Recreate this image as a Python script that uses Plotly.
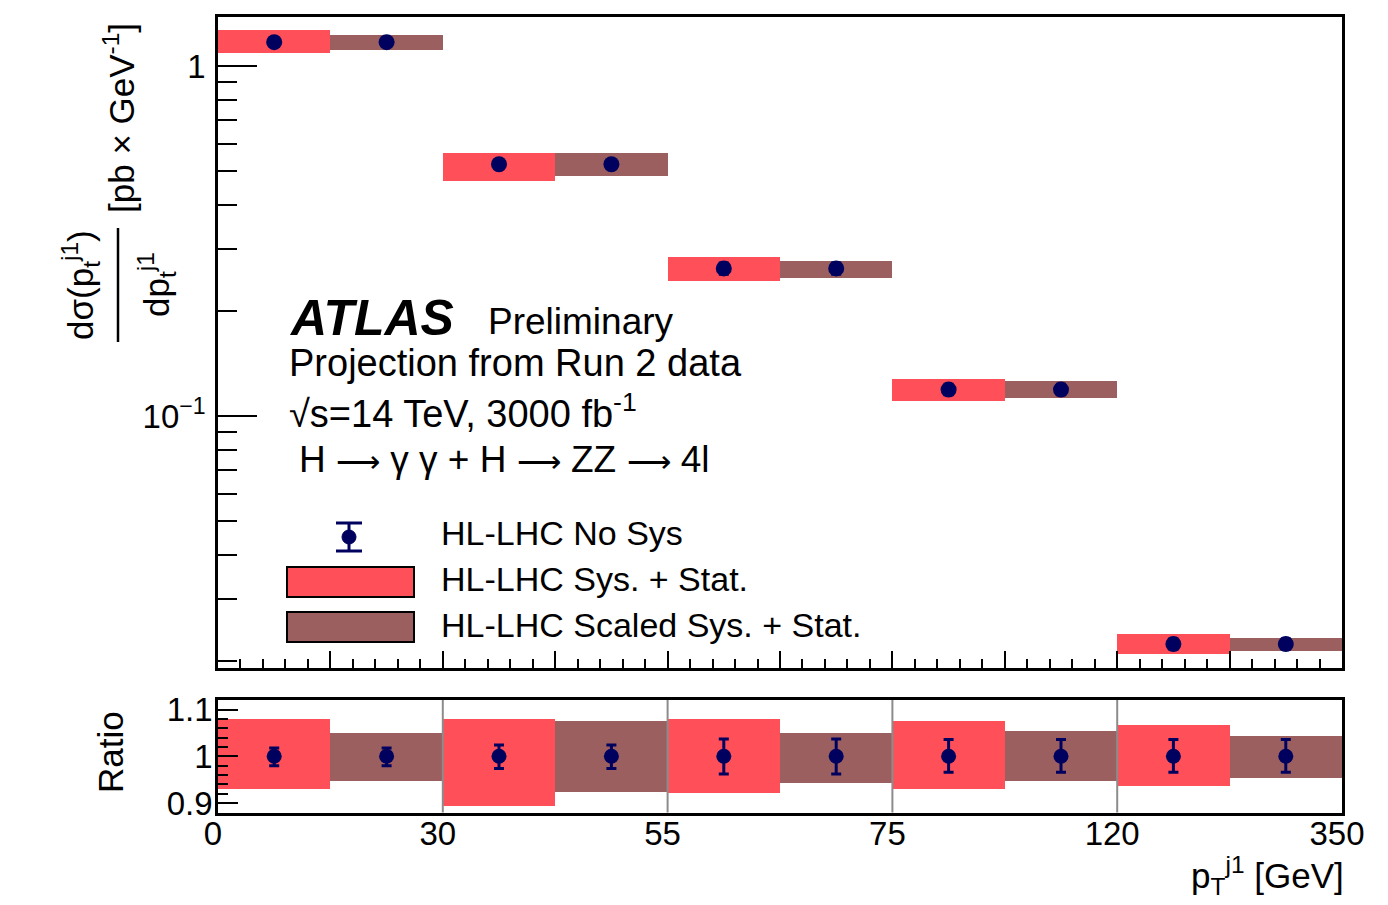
import plotly.graph_objects as go

# Leading-jet pT bins (GeV) and their edge labels
bin_edges = ["0", "30", "55", "75", "120", "350"]

# Differential cross section per bin [pb/GeV]
xsec = [1.17, 0.524, 0.264, 0.119, 0.0223]

# Relative uncertainty bands (upper / lower edge of the ratio)
sys_hi = [1.080, 1.080, 1.080, 1.075, 1.067]
sys_lo = [0.929, 0.894, 0.922, 0.929, 0.936]
scaled_hi = [1.049, 1.075, 1.049, 1.055, 1.043]
scaled_lo = [0.948, 0.923, 0.942, 0.947, 0.954]

# Statistical-only (no systematics) relative uncertainty
nosys_up_left = [0.018, 0.024, 0.037, 0.036, 0.036]
nosys_dn_left = [0.020, 0.026, 0.038, 0.034, 0.034]
nosys_up_right = [0.018, 0.024, 0.037, 0.036, 0.036]
nosys_dn_right = [0.020, 0.026, 0.038, 0.034, 0.034]

RED = "#FF4F58"
BROWN = "#9C5F60"
NAVY = "#00005E"
FONT = "Liberation Sans, Arial, Helvetica, sans-serif"

W, H = 1388, 905


def px(x):
    return x / W


def py(y):
    return 1 - y / H


n = len(xsec)
left_c = [i + 0.25 for i in range(n)]
right_c = [i + 0.75 for i in range(n)]

fig = go.Figure()

# ---- upper panel: cross section with uncertainty boxes ----
fig.add_trace(go.Bar(
    x=left_c, base=[v * lo for v, lo in zip(xsec, sys_lo)],
    y=[v * (hi - lo) for v, hi, lo in zip(xsec, sys_hi, sys_lo)],
    width=0.5, marker=dict(color=RED, line=dict(width=0)),
    xaxis="x", yaxis="y", showlegend=False))
fig.add_trace(go.Bar(
    x=right_c, base=[v * lo for v, lo in zip(xsec, scaled_lo)],
    y=[v * (hi - lo) for v, hi, lo in zip(xsec, scaled_hi, scaled_lo)],
    width=0.5, marker=dict(color=BROWN, line=dict(width=0)),
    xaxis="x", yaxis="y", showlegend=False))
fig.add_trace(go.Scatter(
    x=left_c + right_c, y=xsec + xsec, mode="markers",
    marker=dict(color=NAVY, size=16),
    error_y=dict(type="data",
                 array=[v * e for v, e in zip(xsec, nosys_up_left)] + [v * e for v, e in zip(xsec, nosys_up_right)],
                 arrayminus=[v * e for v, e in zip(xsec, nosys_dn_left)] + [v * e for v, e in zip(xsec, nosys_dn_right)],
                 color=NAVY, thickness=3, width=5),
    xaxis="x", yaxis="y", showlegend=False))

# ---- lower panel: ratio ----
fig.add_trace(go.Bar(
    x=left_c, base=sys_lo, y=[hi - lo for hi, lo in zip(sys_hi, sys_lo)],
    width=0.5, marker=dict(color=RED, line=dict(width=0)),
    xaxis="x2", yaxis="y2", showlegend=False))
fig.add_trace(go.Bar(
    x=right_c, base=scaled_lo, y=[hi - lo for hi, lo in zip(scaled_hi, scaled_lo)],
    width=0.5, marker=dict(color=BROWN, line=dict(width=0)),
    xaxis="x2", yaxis="y2", showlegend=False))
fig.add_trace(go.Scatter(
    x=left_c + right_c, y=[1.0] * (2 * n), mode="markers",
    marker=dict(color=NAVY, size=15),
    error_y=dict(type="data", array=nosys_up_left + nosys_up_right,
                 arrayminus=nosys_dn_left + nosys_dn_right,
                 color=NAVY, thickness=3, width=5),
    xaxis="x2", yaxis="y2", showlegend=False))

x_dom = [px(218), px(1342)]
log_minor = [m * 10 ** e for e in (-2, -1) for m in range(2, 10)]

axis_common = dict(showline=True, linecolor="black", linewidth=2.5, mirror=True,
                   showgrid=False, zeroline=False, tickcolor="black", tickwidth=2,
                   automargin=False,
                   tickfont=dict(family=FONT, size=33, color="black"))

fig.update_layout(
    width=W, height=H, autosize=False,
    margin=dict(l=0, r=0, t=0, b=0, pad=0),
    paper_bgcolor="white", plot_bgcolor="white",
    barmode="overlay", bargap=0,
    font=dict(family=FONT, color="black"),
    xaxis=dict(domain=x_dom, range=[0, n], anchor="y",
               tickmode="linear", tick0=0, dtick=0.5, ticks="inside", ticklen=17,
               showticklabels=False,
               minor=dict(dtick=0.1, tick0=0, ticks="inside", ticklen=9,
                          tickwidth=2, tickcolor="black"),
               **axis_common),
    yaxis=dict(domain=[py(668), py(17)], type="log", range=[-1.72, 0.14], anchor="x",
               tickmode="array", tickvals=[0.1, 1], ticktext=["10<sup>\u22121</sup>", "1"],
               ticks="inside", ticklen=39, ticklabelstandoff=3,
               minor=dict(tickmode="array", tickvals=log_minor, ticks="inside",
                          ticklen=19, tickwidth=2, tickcolor="black"),
               **axis_common),
    xaxis2=dict(domain=x_dom, range=[0, n], anchor="y2",
                tickmode="array", tickvals=list(range(n + 1)), ticktext=bin_edges,
                ticks="", ticklabelstandoff=-10, ticklabelshift=-5,
                **axis_common),
    yaxis2=dict(domain=[py(812.5), py(700)], range=[0.8796, 1.1206], anchor="x2",
                tickmode="array", tickvals=[0.9, 1.0, 1.1], ticktext=["0.9", "1", "1.1"],
                ticks="inside", ticklen=20, ticklabelstandoff=-4,
                minor=dict(tickmode="linear", tick0=0.88, dtick=0.02, ticks="inside",
                           ticklen=10, tickwidth=2, tickcolor="black"),
                **axis_common),
)

shapes = []
# vertical guide lines at the internal bin edges of the ratio panel
for e in range(1, n):
    shapes.append(dict(type="line", xref="x2", yref="y2 domain", x0=e, x1=e, y0=0, y1=1,
                       line=dict(color="#8C8C8C", width=2), layer="above"))

# fraction bar of the y-axis title
shapes.append(dict(type="line", xref="paper", yref="paper", x0=px(118), x1=px(118),
                   y0=py(342), y1=py(228), line=dict(color="black", width=2.5)))

# legend swatches
shapes.append(dict(type="rect", xref="paper", yref="paper", x0=px(287), x1=px(414),
                   y0=py(597), y1=py(567), fillcolor=RED, line=dict(color="black", width=2)))
shapes.append(dict(type="rect", xref="paper", yref="paper", x0=px(287), x1=px(414),
                   y0=py(642), y1=py(612), fillcolor=BROWN, line=dict(color="black", width=2)))
# legend marker with error bar
shapes.append(dict(type="line", xref="paper", yref="paper", x0=px(349), x1=px(349),
                   y0=py(551), y1=py(523), line=dict(color=NAVY, width=3)))
for yc in (523, 551):
    shapes.append(dict(type="line", xref="paper", yref="paper", x0=px(336), x1=px(362),
                       y0=py(yc), y1=py(yc), line=dict(color=NAVY, width=3)))
shapes.append(dict(type="circle", xref="paper", yref="paper", x0=px(342), x1=px(356),
                   y0=py(544), y1=py(530), fillcolor=NAVY, line=dict(color=NAVY, width=1)))

fig.update_layout(shapes=shapes)

ann = []


def text(x, y, s, size, xanchor="left", angle=0):
    ann.append(dict(xref="paper", yref="paper", x=px(x), y=py(y), text=s, showarrow=False,
                    xanchor=xanchor, yanchor="middle", textangle=angle,
                    font=dict(family=FONT, size=size, color="black")))


ARROW = '<span style="font-size:31px">\u27f6</span>'

text(287, 318, "<b><i>ATLAS</i></b>", 50)
text(486, 321, "Preliminary", 37)
text(287, 363, "Projection from Run 2 data", 38)
text(287, 411, "\u221as=14 TeV, 3000 fb<sup>-1</sup>", 38)
text(297, 459, f"H {ARROW} \u03b3 \u03b3 + H {ARROW} ZZ {ARROW} 4l", 37)

text(439, 533, "HL-LHC No Sys", 34)
text(439, 579, "HL-LHC Sys. + Stat.", 34)
text(439, 625, "HL-LHC Scaled Sys. + Stat.", 34)

# y-axis titles
text(80, 285, "d\u03c3(p<sub>t</sub><sup>j1</sup>)", 35, xanchor="center", angle=-90)
text(156, 285, "dp<sub>t</sub><sup>j1</sup>", 35, xanchor="center", angle=-90)
text(119, 118, "[pb \u00d7 GeV<sup>-1</sup>]", 35, xanchor="center", angle=-90)
text(110, 752, "Ratio", 35, xanchor="center", angle=-90)

# x-axis title
text(1346, 875, "p<sub>T</sub><sup>j1</sup> [GeV]", 35, xanchor="right")

fig.update_layout(annotations=ann)

fig.write_html("out.html")
